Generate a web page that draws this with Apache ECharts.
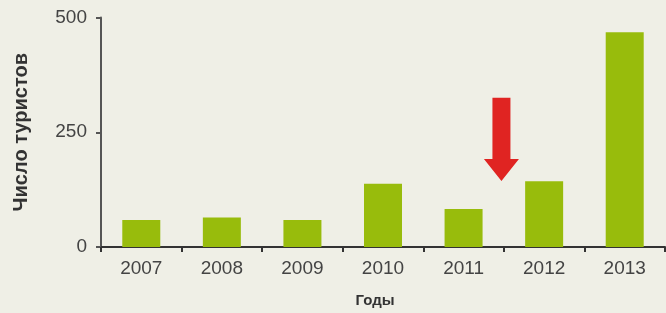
<!DOCTYPE html>
<html><head><meta charset="utf-8">
<script src="https://cdn.jsdelivr.net/npm/echarts@6/dist/echarts.min.js"></script>
<style>html,body{margin:0;padding:0;background:#efefe6;}#c{width:666px;height:313px;}</style>
</head><body><div id="c"></div>
<script>
var categories = ['2007','2008','2009','2010','2011','2012','2013'];
var tourists = [59, 64, 59, 138, 83, 143, 468];
var yTicks = [0, 250, 500];
var arrowValues = {from: 325, to: 144}; // arrow drawn between 2011 and 2012

var chart = echarts.init(document.getElementById('c'));
var font = '"Liberation Sans", Arial, sans-serif';
chart.setOption({
  backgroundColor: '#efefe6',
  animation: false,
  grid: {left: 101, right: 1, top: 17.5, bottom: 62},
  xAxis: {
    type: 'category', data: categories,
    name: 'Годы', nameLocation: 'middle', nameGap: 46,
    nameTextStyle: {fontFamily: font, fontWeight: 'bold', fontSize: 15, color: '#333', padding: [0, 16, 0, 0]},
    axisLine: {lineStyle: {color: '#333', width: 2}},
    axisTick: {show: true, length: 5, lineStyle: {color: '#333', width: 2}},
    axisLabel: {fontFamily: font, fontSize: 19, color: '#444', margin: 12}
  },
  yAxis: {
    type: 'value', min: 0, max: 500, interval: 250,
    name: 'Число туристов', nameLocation: 'middle', nameGap: 70, nameRotate: 90,
    nameTextStyle: {fontFamily: font, fontWeight: 'bold', fontSize: 20, color: '#333'},
    axisLine: {show: true, lineStyle: {color: '#555', width: 2}},
    axisTick: {show: true, length: 5, lineStyle: {color: '#555', width: 2}},
    axisLabel: {fontFamily: font, fontSize: 19, color: '#444', margin: 14,
      formatter: function (v) { return yTicks.indexOf(v) >= 0 ? String(v) : ''; }},
    splitLine: {show: false}
  },
  series: [{
    type: 'bar', data: tourists, barWidth: 38,
    itemStyle: {color: '#98bc0c'}
  }]
});

function drawArrow() {
  var c1 = chart.convertToPixel({xAxisIndex: 0}, categories[4]);
  var c2 = chart.convertToPixel({xAxisIndex: 0}, categories[5]);
  var cx = c1 + (c2 - c1) * 0.47;
  var yTop = chart.convertToPixel({yAxisIndex: 0}, arrowValues.from);
  var yTip = chart.convertToPixel({yAxisIndex: 0}, arrowValues.to);
  var headH = 22, shaftW = 9, headW = 17.5;
  chart.setOption({graphic: [{
    type: 'polygon',
    shape: {points: [
      [cx - shaftW, yTop], [cx + shaftW, yTop], [cx + shaftW, yTip - headH],
      [cx + headW, yTip - headH], [cx, yTip], [cx - headW, yTip - headH],
      [cx - shaftW, yTip - headH]
    ]},
    style: {fill: '#e02422'}
  }]});
}
drawArrow();
</script></body></html>
